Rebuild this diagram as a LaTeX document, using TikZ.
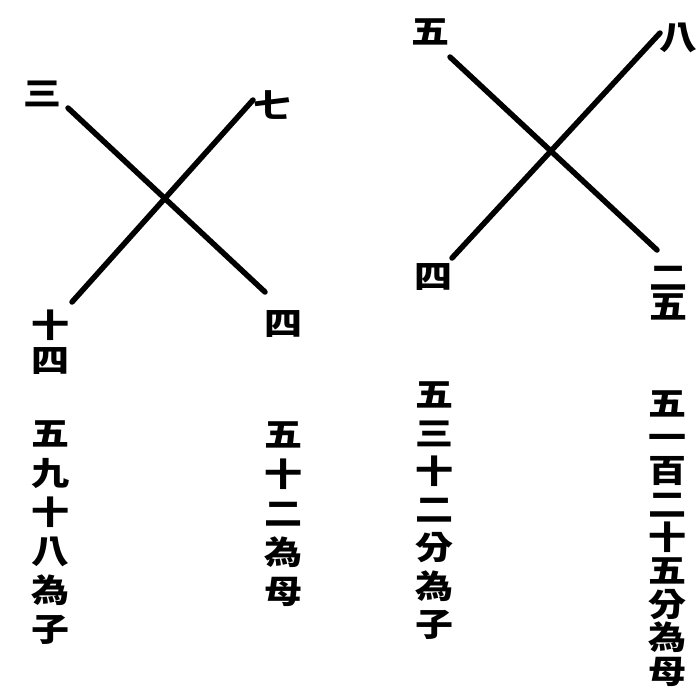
\documentclass[tikz,border=0pt]{standalone}
\usepackage{fontspec}
\newfontfamily\cjk{Noto Sans CJK TC}
\tikzset{
  zi/.style={font=\cjk\bfseries\fontsize{38}{38}\selectfont, inner sep=0pt, yscale=0.85, transform shape},
  col/.style={font=\cjk\bfseries\fontsize{38}{#1}\selectfont, inner sep=0pt, align=center, anchor=north, yscale=0.85, transform shape},
  rod/.style={line width=5.5pt, line cap=round}
}
\begin{document}
\begin{tikzpicture}[x=1pt,y=-1pt]
\useasboundingbox (0,0) rectangle (700,697);
% left cross
\coordinate (a1) at (68,108); \coordinate (a2) at (265,292);
\coordinate (b1) at (253,100); \coordinate (b2) at (72,302);
\draw[rod] (a1)--(a2);
\draw[rod] (b1)--(b2);
\node[zi] (san) at (42,94) {三};
\node[zi] (qi) at (272,105) {七};
\node[zi] (shi) at (50,325) {十};
\node[zi] (si) at (50,361) {四};
\node[zi] (sib) at (283,324) {四};
\node[col=46] (zi1) at (50,421) {五\\九\\十\\八\\為\\子};
\node[col=46] (mu1) at (283,422) {五\\十\\二\\為\\母};
% right cross
\coordinate (c1) at (450,57); \coordinate (c2) at (657,250);
\coordinate (d1) at (660,33); \coordinate (d2) at (452,258);
\draw[rod] (c1)--(c2);
\draw[rod] (d1)--(d2);
\node[zi] (wu) at (430,32) {五};
\node[zi] (ba) at (678,38) {八};
\node[zi] (sic) at (433,277) {四};
\node[zi] (er) at (668,278) {二};
\node[zi] (wub) at (668,307) {五};
\node[col=45] (zi2) at (434,382) {五\\三\\十\\二\\分\\為\\子};
\node[col=39.3] (mu2) at (667,391) {五\\一\\百\\二\\十\\五\\分\\為\\母};
\end{tikzpicture}
\end{document}
